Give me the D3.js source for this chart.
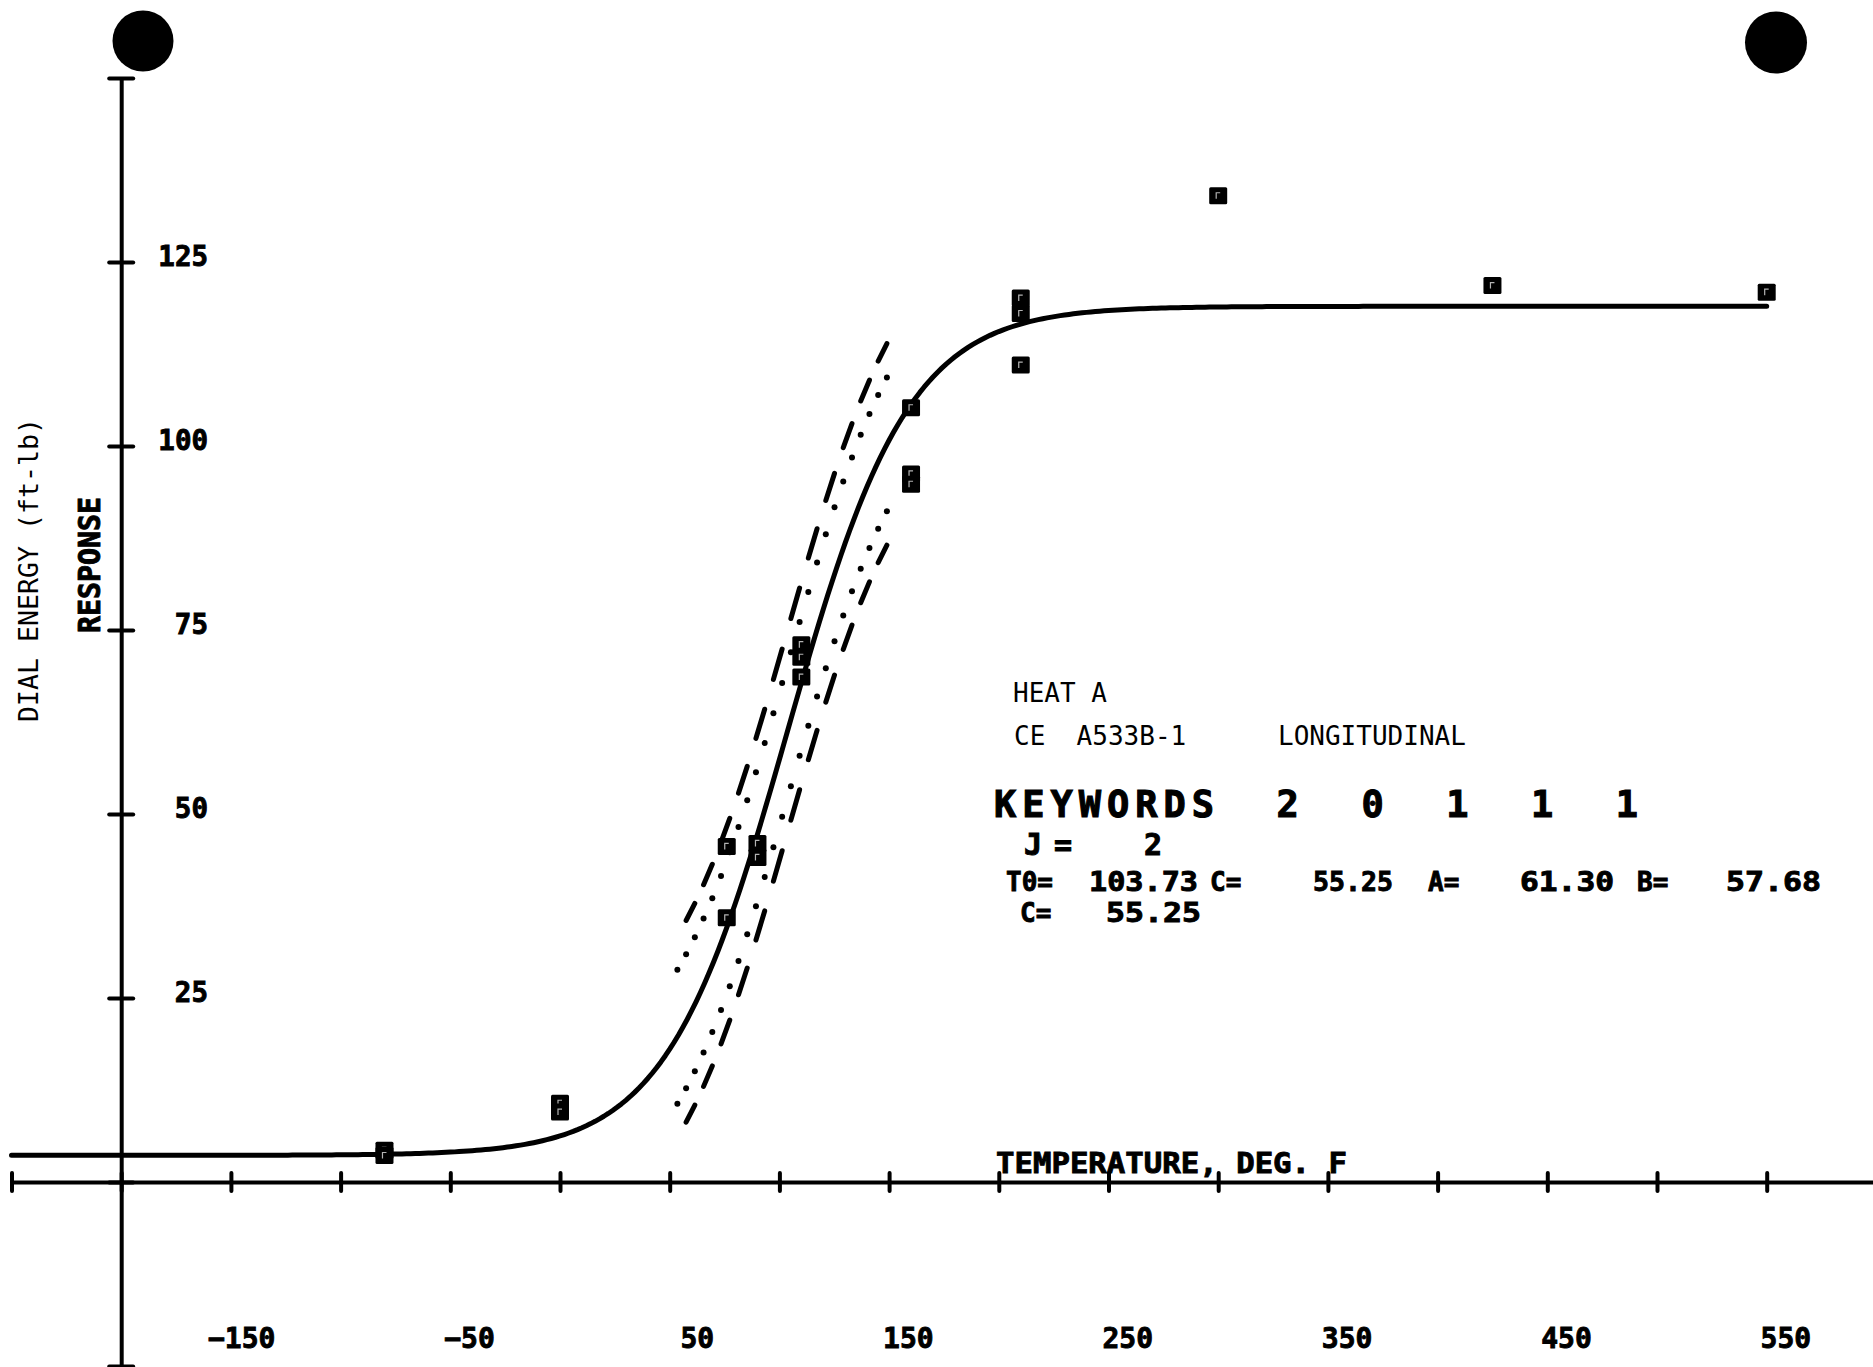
<!DOCTYPE html>
<html>
<head>
<meta charset="utf-8">
<script src="https://cdn.jsdelivr.net/npm/d3@7"></script>
<style>
  html, body { margin: 0; padding: 0; background: #fff; }
  svg { display: block; }
  svg text { white-space: pre; }
  .plot { font-family: "DejaVu Sans Mono", monospace; font-weight: bold; font-variant-numeric: slashed-zero; }
  .type { font-family: "DejaVu Sans Mono", monospace; font-weight: normal; }
</style>
</head>
<body>
<svg id="chart" width="1873" height="1367"></svg>
<script>
// Charpy V-notch results, heat A (test temperature in deg F, dial energy in ft-lb)
const testTemps  = [-80, -80, 0, 0, 76, 76, 90, 90, 110, 110, 110, 160, 160, 160, 210, 210, 210, 300, 425, 550];
const dialEnergy = [4.3, 3.6, 10.7, 9.5, 45.6, 35.9, 46.0, 44.1, 73.0, 71.3, 68.6, 105.2, 96.2, 94.8, 120.1, 118.0, 111.0, 134.0, 121.8, 120.9];

// hyperbolic-tangent fit: E = A + B * tanh((T - T0) / C)
const fitNames  = ["T0", "C", "A", "B"];
const fitValues = [103.73, 55.25, 61.30, 57.68];

// scatter bands about the fit (dashed, dotted) and the temperature span they cover
const bandOffsets = [13.7, 9.1];
const bandSpan = [53.5, 149];
const bandSteps = 24;

const curveSpan = [-250, 550];
const xTicks = [-250, -200, -150, -100, -50, 0, 50, 100, 150, 200, 250, 300, 350, 400, 450, 500, 550, 600];
const xTickLabels = [-150, -50, 50, 150, 250, 350, 450, 550];
const yTicks = [-25, 0, 25, 50, 75, 100, 125, 150];
const yTickLabels = [25, 50, 75, 100, 125];
const keywords = [2, 0, 1, 1, 1];
const jValue = 2;

const ink = "#000";
const svg = d3.select("#chart");
svg.append("rect").attr("width", 1873).attr("height", 1367).attr("fill", "#fff");

const x = d3.scaleLinear().domain([-250, 600]).range([11.5, 1876.4]);
const y = d3.scaleLinear().domain([-25, 150]).range([1366, 78]);

const fit = Object.fromEntries(fitNames.map((n, i) => [n, fitValues[i]]));
const energyAt = t => fit.A + fit.B * Math.tanh((t - fit.T0) / fit.C);

// registration dots
svg.append("circle").attr("cx", 143).attr("cy", 41).attr("r", 30.5).attr("fill", ink);
svg.append("circle").attr("cx", 1776).attr("cy", 42.5).attr("r", 31).attr("fill", ink);

// ---- axes ----
const axisY0 = y(0);
const axisX0 = x(-200);

const gx = svg.append("g").attr("transform", `translate(0,${axisY0})`)
  .call(d3.axisBottom(x).tickValues(xTicks).tickSizeInner(9).tickSizeOuter(0).tickFormat(""));
gx.select(".domain").attr("stroke", ink).attr("stroke-width", 4);
gx.selectAll(".tick line").attr("y1", -9).attr("y2", 9)
  .attr("stroke", ink).attr("stroke-width", 4).attr("stroke-linecap", "round");

const gy = svg.append("g").attr("transform", `translate(${axisX0},0)`)
  .call(d3.axisLeft(y).tickValues(yTicks).tickSizeInner(12).tickSizeOuter(0).tickFormat(""));
gy.select(".domain").attr("stroke", ink).attr("stroke-width", 4);
gy.selectAll(".tick line").attr("x1", -12).attr("x2", 12)
  .attr("stroke", ink).attr("stroke-width", 4).attr("stroke-linecap", "round");

// tick labels
const gxl = svg.append("g").attr("class", "plot").attr("transform", `translate(0,${axisY0})`)
  .call(d3.axisBottom(x).tickValues(xTickLabels).tickSize(0).tickFormat(d3.format("d")));
gxl.select(".domain").remove();
gxl.selectAll("text")
  .attr("x", 44).attr("y", 166).attr("dy", null)
  .attr("text-anchor", "end").attr("font-size", 28).attr("fill", ink)
  .attr("stroke", ink).attr("stroke-width", 0.9);

const gyl = svg.append("g").attr("class", "plot").attr("transform", `translate(${axisX0},0)`)
  .call(d3.axisRight(y).tickValues(yTickLabels).tickSize(0).tickFormat(d3.format("d")));
gyl.select(".domain").remove();
gyl.selectAll("text")
  .attr("x", 208 - axisX0).attr("y", 3).attr("dy", null)
  .attr("text-anchor", "end").attr("font-size", 27.5).attr("fill", ink)
  .attr("stroke", ink).attr("stroke-width", 0.9);

// axis titles
svg.append("text").attr("class", "plot")
  .attr("transform", "translate(100,633) rotate(-90)")
  .attr("font-size", 30).attr("textLength", 136).attr("lengthAdjust", "spacingAndGlyphs")
  .attr("fill", ink).attr("stroke", ink).attr("stroke-width", 0.9)
  .text("RESPONSE");

svg.append("text").attr("class", "type")
  .attr("transform", "translate(38,722) rotate(-90)")
  .attr("font-size", 26.5).attr("textLength", 304).attr("lengthAdjust", "spacingAndGlyphs")
  .attr("fill", ink)
  .text("DIAL ENERGY (ft-lb)");

svg.append("text").attr("class", "plot")
  .attr("x", 996).attr("y", 1173)
  .attr("font-size", 28).attr("textLength", 351).attr("lengthAdjust", "spacingAndGlyphs")
  .attr("fill", ink).attr("stroke", ink).attr("stroke-width", 0.9)
  .text("TEMPERATURE, DEG. F");

// ---- fitted curve ----
const curveT = d3.range(curveSpan[0], curveSpan[1] + 0.001, 2);
svg.append("path")
  .datum(curveT)
  .attr("fill", "none").attr("stroke", ink).attr("stroke-width", 5)
  .attr("stroke-linecap", "round").attr("stroke-linejoin", "round")
  .attr("d", d3.line().x(t => x(t)).y(t => y(energyAt(t))));

// ---- scatter bands: dashed (outer) and dotted (inner), sampled in equal temperature steps ----
const bandT = d3.range(bandSteps + 1).map(k => bandSpan[1] - k * (bandSpan[1] - bandSpan[0]) / bandSteps);
const dashPairs = d3.range(0, bandSteps, 2).map(k => [bandT[k], bandT[k + 1]]);
[1, -1].forEach(sign => {
  const off = sign * bandOffsets[0];
  svg.append("g").selectAll("line").data(dashPairs).join("line")
    .attr("x1", d => x(d[0])).attr("y1", d => y(energyAt(d[0]) + off))
    .attr("x2", d => x(d[1])).attr("y2", d => y(energyAt(d[1]) + off))
    .attr("stroke", ink).attr("stroke-width", 5).attr("stroke-linecap", "round");
  const offd = sign * bandOffsets[1];
  svg.append("g").selectAll("circle").data(bandT).join("circle")
    .attr("cx", t => x(t)).attr("cy", t => y(energyAt(t) + offd))
    .attr("r", 3).attr("fill", ink);
});

// ---- test specimens ----
const pts = testTemps.map((t, i) => ({ t, e: dialEnergy[i] }));
const sq = svg.append("g").selectAll("g").data(pts).join("g")
  .attr("transform", d => `translate(${x(d.t)},${y(d.e)})`);
sq.append("rect").attr("x", -9).attr("y", -8.5).attr("width", 18).attr("height", 17)
  .attr("rx", 1.5).attr("fill", ink);
sq.append("path").attr("d", "M-2,3 V-3 H2")
  .attr("fill", "none").attr("stroke", "#fff").attr("stroke-width", 1.2).attr("opacity", 0.7);

// ---- specimen / fit annotation ----
svg.append("text").attr("class", "type").attr("x", 1013).attr("y", 702)
  .attr("font-size", 26).attr("fill", ink).text("HEAT A");
svg.append("text").attr("class", "type").attr("x", 1014).attr("y", 745)
  .attr("font-size", 26).attr("fill", ink).text("CE  A533B-1");
svg.append("text").attr("class", "type").attr("x", 1278).attr("y", 745)
  .attr("font-size", 26).attr("fill", ink).text("LONGITUDINAL");

svg.append("text").attr("class", "plot").attr("x", 994).attr("y", 817)
  .attr("font-size", 37).attr("textLength", 644).attr("lengthAdjust", "spacing")
  .attr("fill", ink).attr("stroke", ink).attr("stroke-width", 1.1)
  .text("KEYWORDS  " + keywords.join("  "));

svg.append("text").attr("class", "plot").attr("x", 994).attr("y", 855)
  .attr("font-size", 30).attr("textLength", 168).attr("lengthAdjust", "spacing")
  .attr("fill", ink).attr("stroke", ink).attr("stroke-width", 1)
  .text(" J=  " + jValue);

const f2 = d3.format(".2f");
const paramLine = [
  ["T0=", 1006, null], [f2(fit.T0), 1089, 109],
  ["C=", 1210, null], [f2(fit.C), 1313, 80],
  ["A=", 1428, null], [f2(fit.A), 1520, 94],
  ["B=", 1637, null], [f2(fit.B), 1726, 95]
];
paramLine.forEach(([s, px, w]) => {
  const t = svg.append("text").attr("class", "plot").attr("x", px).attr("y", 891)
    .attr("font-size", 26).attr("fill", ink).attr("stroke", ink).attr("stroke-width", 0.9).text(s);
  if (w) t.attr("textLength", w).attr("lengthAdjust", "spacingAndGlyphs");
});
svg.append("text").attr("class", "plot").attr("x", 1020).attr("y", 922)
  .attr("font-size", 26).attr("fill", ink).attr("stroke", ink).attr("stroke-width", 0.9).text("C=");
svg.append("text").attr("class", "plot").attr("x", 1106).attr("y", 922)
  .attr("font-size", 26).attr("textLength", 95).attr("lengthAdjust", "spacingAndGlyphs")
  .attr("fill", ink).attr("stroke", ink).attr("stroke-width", 0.9).text(f2(fit.C));
</script>
</body>
</html>
